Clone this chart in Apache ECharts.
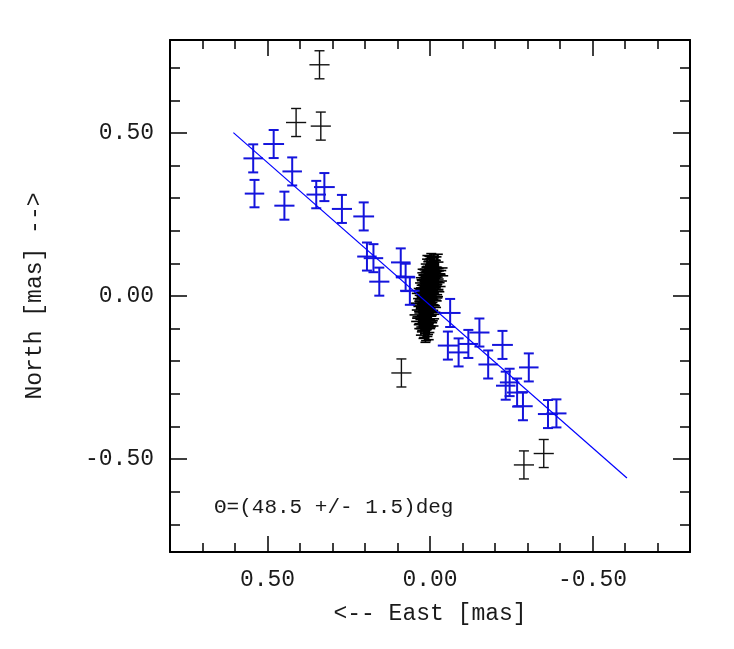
<!DOCTYPE html>
<html>
<head>
<meta charset="utf-8">
<style>
  html, body { margin: 0; padding: 0; background: #fff; }
  #chart { width: 734px; height: 649px; }
</style>
<script src="https://cdn.jsdelivr.net/npm/echarts@6/dist/echarts.min.js"></script>
</head>
<body>
<div id="chart"></div>
<script>
// offsets in mas, East positive (axis drawn reversed)
const blueX = [0.544, 0.481, 0.540, 0.448, 0.424, 0.350, 0.325, 0.271, 0.204, 0.194, 0.174, 0.156, 0.090, 0.075, 0.062,
  -0.062, -0.055, -0.088, -0.118, -0.152, -0.179, -0.223, -0.233, -0.245, -0.268, -0.286, -0.304, -0.363, -0.389];
const blueY = [0.422, 0.466, 0.314, 0.277, 0.382, 0.311, 0.334, 0.267, 0.244, 0.121, 0.116, 0.044, 0.103, 0.057, 0.016,
  -0.052, -0.152, -0.173, -0.147, -0.112, -0.210, -0.150, -0.275, -0.265, -0.296, -0.338, -0.219, -0.362, -0.360];
const blueXErr = [0.030, 0.032, 0.030, 0.031, 0.030, 0.030, 0.032, 0.031, 0.032, 0.030, 0.030, 0.031, 0.030, 0.030, 0.030,
  0.032, 0.031, 0.030, 0.030, 0.031, 0.030, 0.032, 0.030, 0.030, 0.031, 0.030, 0.030, 0.031, 0.031];
const blueYErr = [0.043, 0.043, 0.042, 0.043, 0.043, 0.042, 0.043, 0.043, 0.043, 0.043, 0.043, 0.043, 0.043, 0.042, 0.043,
  0.043, 0.043, 0.043, 0.043, 0.043, 0.043, 0.043, 0.043, 0.042, 0.043, 0.043, 0.043, 0.043, 0.043];

const outlierX = [0.340, 0.412, 0.336, 0.088, -0.289, -0.350];
const outlierY = [0.709, 0.532, 0.521, -0.236, -0.518, -0.483];
const outlierXErr = [0.031, 0.031, 0.031, 0.031, 0.031, 0.031];
const outlierYErr = [0.043, 0.043, 0.043, 0.043, 0.043, 0.043];

const clusterX = [0.012, 0.020, 0.008, 0.028, 0.015, 0.002, 0.024, 0.010, 0.033, 0.018, -0.002, 0.006, 0.026, 0.013,
  0.021, 0.000, 0.009, 0.030, 0.016, -0.006, 0.004, 0.022, 0.011, -0.010, 0.017, 0.001, 0.026, 0.008, -0.014, 0.014,
  -0.003, 0.020, 0.005, -0.018, 0.011, -0.008, 0.016, 0.000, -0.022, 0.007, -0.012, 0.013, -0.004, -0.026, 0.004,
  -0.016, 0.009, -0.008, -0.020, 0.002, -0.012, -0.004, -0.024, 0.014, 0.004,
  0.018, 0.006, 0.025, 0.011, 0.001, 0.019, 0.014, -0.004, 0.023, 0.007, 0.016, -0.008, 0.010, 0.003, 0.018,
  -0.011, 0.006, 0.013, -0.006, 0.002, -0.015, 0.010, -0.002, -0.009, 0.005, -0.018, -0.001, -0.013, 0.008, -0.006];
const clusterY = [-0.095, -0.088, -0.082, -0.078, -0.072, -0.070, -0.064, -0.060, -0.058, -0.052, -0.050, -0.045, -0.043,
  -0.038, -0.032, -0.030, -0.026, -0.022, -0.018, -0.015, -0.010, -0.008, -0.004, -0.002, 0.002, 0.005, 0.008, 0.011,
  0.013, 0.017, 0.020, 0.023, 0.027, 0.029, 0.033, 0.036, 0.040, 0.043, 0.046, 0.049, 0.052, 0.056, 0.059, 0.062,
  0.065, 0.068, 0.071, 0.075, 0.078, 0.080, 0.084, 0.088, 0.086, -0.100, -0.092,
  -0.085, -0.076, -0.068, -0.062, -0.056, -0.047, -0.040, -0.035, -0.028, -0.020, -0.012, -0.006, 0.000, 0.007, 0.010,
  0.015, 0.019, 0.025, 0.031, 0.038, 0.041, 0.047, 0.054, 0.058, 0.063, 0.067, 0.073, 0.077, 0.082, 0.079];
const clusterXErr = 0.030;
const clusterYErr = 0.042;

// fitted position-angle line
const fitX = [0.605, -0.606];
const fitY = [0.501, -0.558];

const minorTicks = [-0.7, -0.6, -0.5, -0.4, -0.3, -0.2, -0.1, 0, 0.1, 0.2, 0.3, 0.4, 0.5, 0.6, 0.7];
const majorTicks = [-0.5, 0, 0.5];
const annotation = 'Θ=(48.5 +/- 1.5)deg';

const FONT = '"Liberation Mono", "DejaVu Sans Mono", monospace';
const TEXT = '#1a1a1a';

const zip = (xs, ys, xe, ye) => xs.map((x, i) => [
  x, ys[i],
  Array.isArray(xe) ? xe[i] : xe,
  Array.isArray(ye) ? ye[i] : ye
]);

const makeErrorBars = (color, width) => (params, api) => {
  const x = api.value(0), y = api.value(1), xe = api.value(2), ye = api.value(3);
  const c = api.coord([x, y]);
  const l = api.coord([x + xe, y]);
  const r = api.coord([x - xe, y]);
  const t = api.coord([x, y + ye]);
  const b = api.coord([x, y - ye]);
  const cap = 5;
  const style = { stroke: color, lineWidth: width };
  return {
    type: 'group',
    children: [
      { type: 'line', shape: { x1: l[0], y1: c[1], x2: r[0], y2: c[1] }, style },
      { type: 'line', shape: { x1: c[0], y1: t[1], x2: c[0], y2: b[1] }, style },
      { type: 'line', shape: { x1: c[0] - cap, y1: t[1], x2: c[0] + cap, y2: t[1] }, style },
      { type: 'line', shape: { x1: c[0] - cap, y1: b[1], x2: c[0] + cap, y2: b[1] }, style }
    ]
  };
};

const frameLine = { show: true, onZero: false, lineStyle: { color: '#000', width: 2 } };

const xBase = { type: 'value', min: -0.8, max: 0.8, inverse: true, splitLine: { show: false } };
const yBase = { type: 'value', min: -0.785, max: 0.785, splitLine: { show: false } };

const tickSet = (values, len, line) => ({
  axisLine: line ? frameLine : { show: false, onZero: false },
  axisTick: { show: true, inside: true, length: len, customValues: values, lineStyle: { color: '#000', width: 1.5 } },
  axisLabel: { show: false }
});

const chart = echarts.init(document.getElementById('chart'));

chart.setOption({
  animation: false,
  backgroundColor: '#fff',
  grid: { left: 170, top: 40, width: 520, height: 512, containLabel: false },
  xAxis: [
    Object.assign({}, xBase, tickSet(minorTicks, 9, true), {
      position: 'bottom',
      axisLabel: {
        show: true, customValues: majorTicks, margin: 16,
        formatter: v => v.toFixed(2),
        fontFamily: FONT, fontSize: 23, color: TEXT
      },
      name: '<-- East [mas]',
      nameLocation: 'middle',
      nameGap: 50,
      nameTextStyle: { fontFamily: FONT, fontSize: 23, color: TEXT }
    }),
    Object.assign({}, xBase, tickSet(majorTicks, 16, false), { position: 'bottom' }),
    Object.assign({}, xBase, tickSet(minorTicks, 9, true), { position: 'top' }),
    Object.assign({}, xBase, tickSet(majorTicks, 16, false), { position: 'top' })
  ],
  yAxis: [
    Object.assign({}, yBase, tickSet(minorTicks, 10, true), {
      position: 'left',
      axisLabel: {
        show: true, customValues: majorTicks, margin: 16,
        formatter: v => v.toFixed(2),
        fontFamily: FONT, fontSize: 23, color: TEXT
      },
      name: 'North [mas] -->',
      nameLocation: 'middle',
      nameRotate: 90,
      nameGap: 124,
      nameTextStyle: { fontFamily: FONT, fontSize: 23, color: TEXT }
    }),
    Object.assign({}, yBase, tickSet(majorTicks, 17, false), { position: 'left' }),
    Object.assign({}, yBase, tickSet(minorTicks, 10, true), { position: 'right' }),
    Object.assign({}, yBase, tickSet(majorTicks, 17, false), { position: 'right' })
  ],
  graphic: [{
    type: 'text',
    left: 214,
    top: 497,
    style: { text: annotation, fontFamily: FONT, fontSize: 21, fill: TEXT }
  }],
  series: [
    {
      type: 'custom',
      name: 'cluster',
      xAxisIndex: 0, yAxisIndex: 0,
      renderItem: makeErrorBars('#000', 1.6),
      encode: { x: 0, y: 1 },
      data: zip(clusterX, clusterY, clusterXErr, clusterYErr),
      z: 2
    },
    {
      type: 'custom',
      name: 'rejected',
      xAxisIndex: 0, yAxisIndex: 0,
      renderItem: makeErrorBars('#111', 1.4),
      encode: { x: 0, y: 1 },
      data: zip(outlierX, outlierY, outlierXErr, outlierYErr),
      z: 2
    },
    {
      type: 'custom',
      name: 'used',
      xAxisIndex: 0, yAxisIndex: 0,
      renderItem: makeErrorBars('#1414dc', 2),
      encode: { x: 0, y: 1 },
      data: zip(blueX, blueY, blueXErr, blueYErr),
      z: 3
    },
    {
      type: 'line',
      name: 'fit',
      xAxisIndex: 0, yAxisIndex: 0,
      data: fitX.map((x, i) => [x, fitY[i]]),
      symbol: 'none',
      lineStyle: { color: '#0000ff', width: 1.2 },
      z: 4
    }
  ]
});
</script>
</body>
</html>
